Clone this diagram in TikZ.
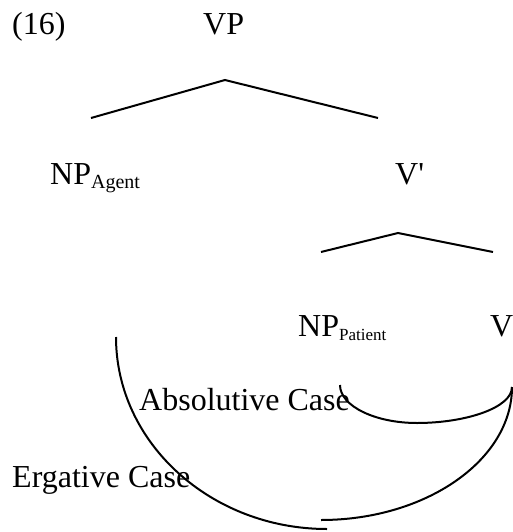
\documentclass[tikz,border=0pt]{standalone}
\usepackage{fontspec}
\setmainfont{Liberation Serif}
\begin{document}
\begin{tikzpicture}[x=1pt,y=-1pt,
  lbl/.style={anchor=base west,inner sep=0pt,font=\fontsize{32}{38}\selectfont},
  branch/.style={line width=2pt},
  arcline/.style={line width=2pt}]
\useasboundingbox (0,0) rectangle (513,532);
% labels
\node[lbl] (ex) at (12,35) {(16)};
\node[lbl] (vp) at (203,35) {VP};
\node[lbl] (npa) at (50,184) {NP\raisebox{-4pt}{\fontsize{20}{20}\selectfont Agent}};
\node[lbl] (vbar) at (395,184) {V\textquotesingle};
\node[lbl] (npp) at (298,336) {NP\raisebox{-4pt}{\fontsize{17}{17}\selectfont Patient}};
\node[lbl] (v) at (490,336) {V};
\node[lbl] (abs) at (139,410) {Absolutive Case};
\node[lbl] (erg) at (12,487) {Ergative Case};
% tree branch points
\coordinate (vpApex) at (225,80);
\coordinate (vpL) at (91,118);
\coordinate (vpR) at (378,118);
\coordinate (vbApex) at (398,233);
\coordinate (vbL) at (321,252);
\coordinate (vbR) at (493,252);
\draw[branch] (vpL) -- (vpApex) -- (vpR);
\draw[branch] (vbL) -- (vbApex) -- (vbR);
% arcs
\coordinate (ergStart) at (116,337);
\coordinate (ergEnd) at (327,529);
\coordinate (vArcTop) at (512,387);
\coordinate (vArcEnd) at (321,520);
\coordinate (absStart) at (340,385);
\coordinate (absBottom) at (417,423);
\draw[arcline] (ergStart) .. controls (116,443) and (211,529) .. (ergEnd);
\draw[arcline] (vArcEnd) .. controls (426,520) and (512,460) .. (vArcTop);
\draw[arcline] (absStart) .. controls (340,406) and (375,423) .. (absBottom)
  .. controls (465,423) and (512,408) .. (vArcTop);
\end{tikzpicture}
\end{document}
